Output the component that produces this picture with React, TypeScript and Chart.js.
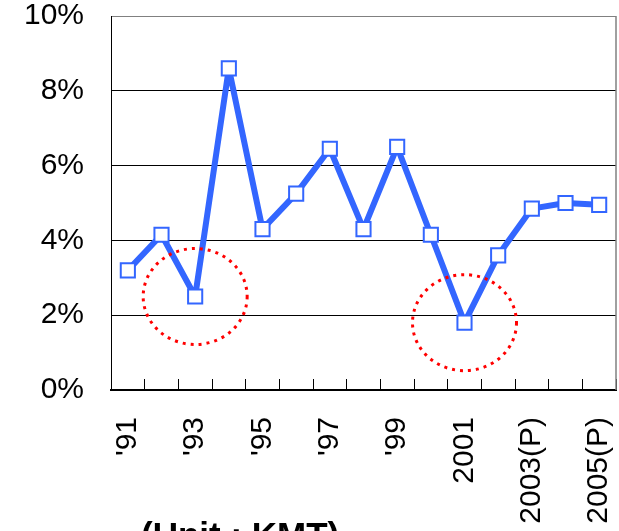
import { useEffect, useRef } from "react";
import { Chart, registerables } from "chart.js";

Chart.register(...registerables);

const categories = ["'91", "'92", "'93", "'94", "'95", "'96", "'97", "'98", "'99", "2000", "2001", "2002", "2003(P)", "2004(P)", "2005(P)"];
const growthRate = [3.2, 4.15, 2.5, 8.6, 4.3, 5.25, 6.45, 4.3, 6.5, 4.15, 1.8, 3.6, 4.85, 5.0, 4.95];
const yTicks = [0, 2, 4, 6, 8, 10];
const highlighted = ["'93", "2001"];
const unitLabel = "(Unit : KMT)";

const FONT = "'Liberation Sans', Arial, sans-serif";

const framePlugin = {
  id: "frameAndHighlights",
  afterDraw(chart: any) {
    const { ctx, chartArea: a, scales } = chart;
    ctx.save();
    ctx.strokeStyle = "#808080";
    ctx.lineWidth = 1.5;
    ctx.beginPath();
    ctx.moveTo(a.right, a.top);
    ctx.lineTo(a.right, a.bottom);
    ctx.stroke();

    ctx.strokeStyle = "#ff0000";
    ctx.lineWidth = 3;
    ctx.setLineDash([3, 5]);
    highlighted.forEach((label) => {
      const i = categories.indexOf(label);
      const cx = scales.x.getPixelForValue(i);
      const cy = scales.y.getPixelForValue(growthRate[i]);
      ctx.beginPath();
      ctx.ellipse(cx, cy, 52, 48, 0, 0, Math.PI * 2);
      ctx.stroke();
    });
    ctx.restore();
  },
};

export default function App() {
  const ref = useRef<HTMLCanvasElement | null>(null);

  useEffect(() => {
    if (!ref.current) return;
    const chart = new Chart(ref.current, {
      type: "line",
      data: {
        labels: categories,
        datasets: [
          {
            data: growthRate,
            borderColor: "#3366ff",
            borderWidth: 6,
            borderJoinStyle: "round",
            tension: 0,
            pointStyle: "rect",
            pointRadius: 10,
            pointHoverRadius: 10,
            pointBackgroundColor: "#ffffff",
            pointBorderColor: "#3366ff",
            pointBorderWidth: 2,
          },
        ],
      },
      options: {
        animation: false,
        responsive: true,
        maintainAspectRatio: false,
        layout: { autoPadding: false, padding: { top: 16, right: 3, left: 0, bottom: 0 } },
        plugins: {
          legend: { display: false },
          tooltip: { enabled: false },
        },
        scales: {
          x: {
            type: "category",
            offset: true,
            grid: {
              offset: true,
              drawOnChartArea: false,
              drawTicks: true,
              tickLength: -11,
              color: "#000000",
              lineWidth: 1,
            },
            border: { display: true, color: "#000000", width: 2 },
            ticks: {
              autoSkip: false,
              maxRotation: 90,
              minRotation: 90,
              padding: 38,
              color: "#000000",
              font: { family: FONT, size: 30 },
              callback: (_v: any, i: number) => (i % 2 === 0 ? categories[i] : ""),
            },
            afterFit: (s: any) => {
              s.height = 141;
              s.paddingLeft = 0;
              s.paddingRight = 0;
            },
          },
          y: {
            min: 0,
            max: 10,
            afterBuildTicks: (s: any) => {
              s.ticks = yTicks.map((v) => ({ value: v }));
            },
            grid: {
              drawTicks: false,
              color: (c: any) => (c.tick && c.tick.value === 10 ? "#808080" : "#000000"),
              lineWidth: 1,
            },
            border: { display: true, color: "#000000", width: 1 },
            ticks: {
              padding: 27,
              color: "#000000",
              font: { family: FONT, size: 30 },
              callback: (v: any) => v + "%",
            },
            afterFit: (s: any) => {
              s.width = 111;
              s.paddingTop = 0;
              s.paddingBottom = 0;
            },
          },
        },
      },
      plugins: [framePlugin],
    });
    return () => chart.destroy();
  }, []);

  return (
    <div
      style={{
        position: "absolute",
        left: 0,
        top: 0,
        width: 619,
        height: 531,
        overflow: "hidden",
        background: "#ffffff",
      }}
    >
      <canvas ref={ref} />
      <div
        style={{
          position: "absolute",
          left: 141,
          top: 517,
          fontFamily: FONT,
          fontWeight: "bold",
          fontSize: 35,
          lineHeight: 1,
          whiteSpace: "nowrap",
          color: "#000000",
        }}
      >
        {unitLabel}
      </div>
    </div>
  );
}
